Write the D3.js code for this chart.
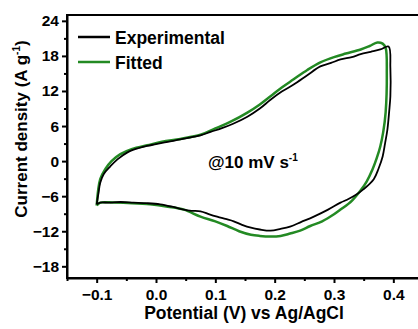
<!DOCTYPE html>
<html>
<head>
<meta charset="utf-8">
<script src="https://cdn.jsdelivr.net/npm/d3@7"></script>
<style>
  body { margin: 0; background: #fff; }
  svg { display: block; font-family: Arial, "Liberation Sans", sans-serif; font-weight: bold; }
  .axis path, .axis line { stroke: #000; stroke-width: 2; }
  .axis text { font-size: 15.5px; font-weight: bold; fill: #000; }
</style>
</head>
<body>
<svg width="418" height="329"></svg>
<script>
'use strict';

// ---------- data ----------
// potential (V) and current density (A/g), loop starts at -0.1 V going up
var expV = [-0.1, -0.097, -0.094, -0.088, -0.077, -0.065, -0.048, -0.03, -0.015, 0.0, 0.02, 0.041, 0.06, 0.075,
    0.092, 0.11, 0.13, 0.154, 0.175, 0.193, 0.212, 0.232, 0.255, 0.277, 0.295, 0.311, 0.33, 0.345, 0.362, 0.378,
    0.392, 0.395, 0.395, 0.393, 0.39, 0.386, 0.382, 0.375, 0.367, 0.35, 0.335, 0.322, 0.311, 0.29, 0.266, 0.245,
    0.226, 0.21, 0.193, 0.175, 0.16, 0.145, 0.131, 0.117, 0.103, 0.09, 0.075, 0.06, 0.047, 0.027, 0.007, -0.015,
    -0.038, -0.06, -0.08, -0.094, -0.1];
var expI = [-7.4, -5.5, -3.7, -2.2, -0.9, 0.3, 1.5, 2.2, 2.6, 2.9, 3.3, 3.7, 4.1, 4.4,
    5.0, 5.6, 6.4, 7.6, 9.0, 10.5, 11.9, 13.1, 14.7, 16.2, 16.8, 17.4, 17.8, 18.3, 18.7, 19.1,
    19.6, 16.0, 11.1, 8.5, 5.4, 3.0, 0.8, -1.3, -3.1, -4.8, -5.9, -6.6, -7.1, -8.3, -9.5, -10.4,
    -11.2, -11.6, -11.9, -11.7, -11.4, -10.9, -10.3, -9.9, -9.5, -9.1, -8.6, -8.5, -8.3, -7.8, -7.4, -7.2,
    -7.1, -7.0, -7.1, -7.1, -7.4];

var fitV = [-0.1, -0.094, -0.085, -0.075, -0.06, -0.04, -0.015, 0.01, 0.041, 0.075, 0.1, 0.125, 0.154, 0.175,
    0.193, 0.212, 0.232, 0.255, 0.277, 0.3, 0.32, 0.345, 0.36, 0.373, 0.382, 0.387, 0.389, 0.387, 0.383, 0.378,
    0.372, 0.365, 0.355, 0.345, 0.33, 0.311, 0.3, 0.28, 0.26, 0.243, 0.226, 0.21, 0.193, 0.175, 0.16, 0.14,
    0.12, 0.1, 0.075, 0.047, 0.02, -0.01, -0.04, -0.07, -0.094, -0.1];
var fitI = [-7.6, -3.1, -1.3, 0.0, 1.2, 2.1, 2.7, 3.3, 3.8, 4.5, 5.6, 6.7, 8.3, 9.7,
    11.1, 12.6, 14.0, 15.6, 16.9, 17.8, 18.4, 19.1, 19.7, 20.3, 20.1, 19.4, 15.0, 8.3, 5.0, 2.5,
    0.5, -1.4, -3.5, -5.0, -6.8, -8.3, -9.1, -10.3, -11.1, -11.9, -12.4, -12.8, -12.9, -12.8, -12.6, -12.0,
    -11.1, -10.3, -9.5, -8.3, -7.8, -7.4, -7.2, -7.1, -7.1, -7.6];

var xTicks = [-0.1, 0.0, 0.1, 0.2, 0.3, 0.4];
var xMinor = [-0.15, -0.05, 0.05, 0.15, 0.25, 0.35, 0.45];
var yTicks = [-18, -12, -6, 0, 6, 12, 18, 24];
var yMinor = [-15, -9, -3, 3, 9, 15, 21];

var seriesNames = ['Experimental', 'Fitted'];
var seriesColors = ['#000000', '#238a23'];

// ---------- layout ----------
var svg = d3.select('svg');
var plotLeft = 67, plotTop = 15, plotRight = 423, plotBottom = 278;

var x = d3.scaleLinear().domain([-0.15, 0.45]).range([plotLeft, plotRight]);
var y = d3.scaleLinear().domain([-20, 25]).range([plotBottom, plotTop]);

// frame (top/right)
svg.append('rect')
    .attr('x', plotLeft).attr('y', plotTop)
    .attr('width', plotRight - plotLeft).attr('height', plotBottom - plotTop)
    .attr('fill', 'none').attr('stroke', '#000').attr('stroke-width', 2);

// minor ticks
svg.append('g')
    .attr('class', 'axis')
    .attr('transform', 'translate(0,' + plotBottom + ')')
    .call(d3.axisBottom(x).tickValues(xMinor).tickSize(3).tickFormat(''))
    .select('.domain').remove();
svg.append('g')
    .attr('class', 'axis')
    .attr('transform', 'translate(' + plotLeft + ',0)')
    .call(d3.axisLeft(y).tickValues(yMinor).tickSize(3).tickFormat(''))
    .select('.domain').remove();

// major ticks + labels
var xAxis = svg.append('g')
    .attr('class', 'axis')
    .attr('transform', 'translate(0,' + plotBottom + ')')
    .call(d3.axisBottom(x).tickValues(xTicks).tickSize(5).tickSizeOuter(0)
        .tickFormat(d3.format('.1f')));
xAxis.selectAll('text').attr('dy', null).attr('y', 22);

var yAxis = svg.append('g')
    .attr('class', 'axis')
    .attr('transform', 'translate(' + plotLeft + ',0)')
    .call(d3.axisLeft(y).tickValues(yTicks).tickSize(5).tickSizeOuter(0).tickPadding(3));

// curves
var line = d3.line()
    .x(function(d) { return x(d[0]); })
    .y(function(d) { return y(d[1]); })
    .curve(d3.curveCatmullRom);

var expData = expV.map(function(v, i) { return [v, expI[i]]; });
var fitData = fitV.map(function(v, i) { return [v, fitI[i]]; });

svg.append('path')
    .attr('d', line(fitData))
    .attr('fill', 'none')
    .attr('stroke', seriesColors[1])
    .attr('stroke-width', 2.5)
    .attr('stroke-linejoin', 'round');
svg.append('path')
    .attr('d', line(expData))
    .attr('fill', 'none')
    .attr('stroke', seriesColors[0])
    .attr('stroke-width', 1.8)
    .attr('stroke-linejoin', 'round');

// legend
var legend = svg.append('g').attr('transform', 'translate(78,37)');
seriesNames.forEach(function(name, i) {
    var g = legend.append('g').attr('transform', 'translate(0,' + (i * 25) + ')');
    g.append('line')
        .attr('x1', 0).attr('x2', 32)
        .attr('stroke', seriesColors[i]).attr('stroke-width', 2.5);
    g.append('text')
        .attr('x', 37).attr('y', 7)
        .attr('font-size', 17.5)
        .text(name);
});

// annotation
var note = svg.append('text')
    .attr('x', 208).attr('y', 168)
    .attr('font-size', 17);
note.append('tspan').text('@10 mV s');
note.append('tspan').attr('font-size', 10).attr('dy', -7).text('-1');

// axis titles
svg.append('text')
    .attr('x', 244).attr('y', 319)
    .attr('text-anchor', 'middle')
    .attr('font-size', 17.5)
    .text('Potential (V) vs Ag/AgCl');

var yTitle = svg.append('text')
    .attr('transform', 'translate(27,129) rotate(-90)')
    .attr('text-anchor', 'middle')
    .attr('font-size', 17);
yTitle.append('tspan').text('Current density (A g');
yTitle.append('tspan').attr('font-size', 10).attr('dy', -7).text('-1');
yTitle.append('tspan').attr('dy', 7).text(')');
</script>
</body>
</html>
